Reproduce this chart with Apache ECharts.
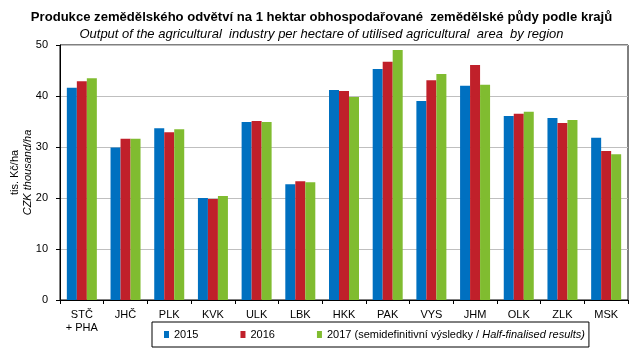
<!DOCTYPE html>
<html><head><meta charset="utf-8">
<script src="https://cdn.jsdelivr.net/npm/echarts@6/dist/echarts.min.js"></script>
<style>html,body{margin:0;padding:0;background:#fff}#c{width:643px;height:356px}</style>
</head><body><div id="c"></div>
<script>
const categories = ['STČ\n+ PHA','JHČ','PLK','KVK','ULK','LBK','HKK','PAK','VYS','JHM','OLK','ZLK','MSK'];
const values2015 = [41.6, 29.9, 33.7, 20.0, 34.9, 22.7, 41.2, 45.3, 39.0, 42.0, 36.1, 35.7, 31.8];
const values2016 = [42.9, 31.6, 32.9, 19.8, 35.1, 23.3, 41.0, 46.7, 43.1, 46.1, 36.5, 34.7, 29.2];
const values2017 = [43.5, 31.6, 33.5, 20.4, 34.9, 23.1, 39.8, 49.0, 44.3, 42.2, 36.9, 35.3, 28.6];
const seriesNames = ['2015','2016','2017'];
const titleText = 'Produkce zemědělského odvětví na 1 hektar obhospodařované  zemědělské půdy podle krajů';
const subtitleText = 'Output of the agricultural  industry per hectare of utilised agricultural  area  by region';

const font = '"Liberation Sans", Arial, sans-serif';
const colors = ['#0070C0', '#C0202A', '#80BC30'];
const chart = echarts.init(document.getElementById('c'), null, {renderer:'canvas'});
const mk = (name, data, i) => ({
  name, type:'bar', data, barWidth:10, barGap:'0%',
  itemStyle:{color:colors[i]}
});
chart.setOption({
  animation:false,
  textStyle:{fontFamily:font},
  title:{
    text:titleText, subtext:subtitleText, left:'center', top:5, itemGap:3,
    textStyle:{fontFamily:font, fontSize:13.1, fontWeight:'bold', color:'#000', lineHeight:14},
    subtextStyle:{fontFamily:font, fontSize:13, fontStyle:'italic', color:'#000', lineHeight:14}
  },
  grid:{left:60, right:15, top:45, bottom:56, show:true, borderColor:'#000', borderWidth:1,
        containLabel:false, outerBoundsMode:'none'},
  legend:{
    left:152, top:322, orient:'horizontal',
    data:seriesNames,
    icon:'rect', itemWidth:5, itemHeight:7, itemGap:42,
    borderColor:'#000', borderWidth:1, padding:[7,4,7,12],
    textStyle:{fontFamily:font, fontSize:11, color:'#000',
      rich:{n:{fontFamily:font, fontSize:11, color:'#000'}, i:{fontFamily:font, fontSize:11, fontStyle:'italic', color:'#000'}}},
    formatter: function(name){
      if (name === '2017') return '{n|2017 (semidefinitivní výsledky / }{i|Half-finalised results)}';
      return name;
    }
  },
  xAxis:{
    type:'category', data:categories,
    axisLine:{lineStyle:{color:'#000', width:1}},
    axisTick:{show:true, length:4, inside:false, lineStyle:{color:'#000'}},
    axisLabel:{color:'#000', fontSize:11, fontFamily:font, margin:8, lineHeight:13, interval:0},
    splitLine:{show:false}
  },
  yAxis:{
    type:'value', min:0, max:50, interval:10,
    axisLine:{show:true, lineStyle:{color:'#000', width:1}},
    axisTick:{show:true, length:4, lineStyle:{color:'#000'}},
    axisLabel:{color:'#000', fontSize:11, fontFamily:font, margin:12},
    splitLine:{show:true, lineStyle:{color:'#BFBFBF', width:1}},
    name:'{a|tis. Kč/ha}\n{b|CZK thousand/ha}',
    nameLocation:'middle', nameRotate:90, nameGap:26, nameMoveOverlap:false,
    nameTextStyle:{color:'#000', lineHeight:13,
      rich:{a:{fontFamily:font, fontSize:11, color:'#000', lineHeight:13},
            b:{fontFamily:font, fontSize:11, fontStyle:'italic', color:'#000', lineHeight:13}}}
  },
  series:[mk(seriesNames[0], values2015, 0), mk(seriesNames[1], values2016, 1), mk(seriesNames[2], values2017, 2)]
});
</script></body></html>
